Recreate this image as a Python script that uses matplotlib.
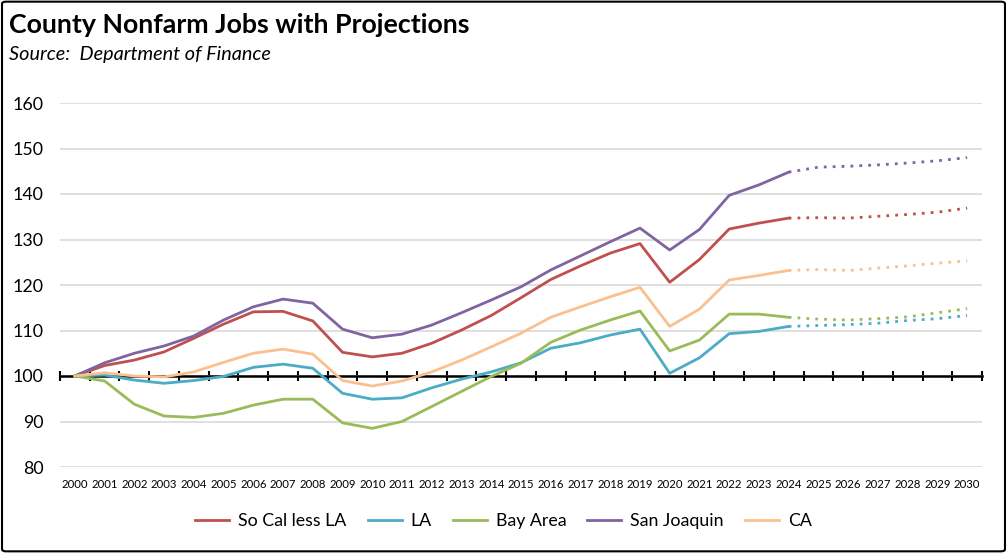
import matplotlib
matplotlib.use("Agg")
import matplotlib.pyplot as plt
from matplotlib.patches import FancyBboxPatch
import numpy as np

plt.rcParams['font.family'] = ['Lato', 'DejaVu Sans']

years = list(range(2000, 2031))
last_actual = 2024  # solid up to here, dotted projection after

so_cal_less_la = [100.0, 102.3, 103.5, 105.3, 108.3, 111.4, 114.1, 114.2, 112.1, 105.2,
                  104.2, 105.0, 107.2, 110.1, 113.3, 117.2, 121.2, 124.2, 127.0, 129.1,
                  120.6, 125.6, 132.3, 133.6, 134.7, 134.8, 134.7, 135.1, 135.5, 136.0, 136.9]
la = [100.0, 100.2, 99.1, 98.4, 99.0, 99.9, 101.9, 102.6, 101.7, 96.2,
      94.9, 95.2, 97.4, 99.3, 100.9, 102.9, 106.1, 107.3, 109.0, 110.3,
      100.6, 104.0, 109.3, 109.8, 110.9, 111.1, 111.3, 111.6, 112.2, 112.6, 113.3]
bay_area = [100.0, 98.9, 93.8, 91.2, 90.9, 91.8, 93.6, 94.9, 94.9, 89.7,
            88.5, 90.0, 93.3, 96.6, 99.9, 102.8, 107.4, 110.1, 112.3, 114.3,
            105.5, 107.9, 113.6, 113.6, 112.9, 112.5, 112.3, 112.6, 113.0, 113.9, 114.8]
san_joaquin = [100.0, 102.9, 105.0, 106.6, 108.8, 112.3, 115.2, 116.9, 116.0, 110.3,
               108.4, 109.2, 111.2, 113.9, 116.7, 119.6, 123.3, 126.4, 129.5, 132.5,
               127.7, 132.2, 139.7, 142.0, 144.8, 145.9, 146.1, 146.4, 146.8, 147.3, 148.0]
ca = [100.0, 100.7, 100.0, 99.8, 100.9, 103.0, 105.0, 105.9, 104.8, 99.0,
      97.8, 98.9, 100.9, 103.5, 106.4, 109.4, 112.9, 115.2, 117.4, 119.5,
      110.9, 114.7, 121.1, 122.1, 123.2, 123.4, 123.2, 123.7, 124.2, 124.8, 125.3]

series = [
    ("So Cal less LA", so_cal_less_la, "#C0504D"),
    ("LA", la, "#4BACC6"),
    ("Bay Area", bay_area, "#9BBB59"),
    ("San Joaquin", san_joaquin, "#8064A2"),
    ("CA", ca, "#FAC090"),
]

fig = plt.figure(figsize=(10.07, 5.53), dpi=100)
ax = fig.add_axes([60 / 1007, 1 - 467 / 553, 922 / 1007, 364 / 553])

x = np.arange(len(years))
cut = years.index(last_actual)
for name, vals, col in series:
    v = np.array(vals)
    ax.plot(x[:cut + 1], v[:cut + 1], color=col, lw=2.0, label=name,
            solid_joinstyle='round', zorder=3)
    ax.plot(x[cut:], v[cut:], color=col, lw=2.0, linestyle=(0, (1.0, 2.2)),
            dash_capstyle='butt', zorder=3)

ax.set_xlim(-0.5, len(years) - 0.5)
ax.set_ylim(80, 160)
ax.set_yticks(range(80, 161, 10))
ax.yaxis.grid(True, color='#d9d9d9', lw=1.2)
ax.set_axisbelow(True)
ax.tick_params(axis='y', length=0, pad=12, labelsize=12.8)
for s in ['top', 'right', 'left']:
    ax.spines[s].set_visible(False)

# category axis crossing at 100
ax.spines['bottom'].set_position(('data', 100))
ax.spines['bottom'].set_linewidth(1.8)
ax.spines['bottom'].set_zorder(2)
ax.set_xticks(np.arange(-0.5, len(years), 1.0))
ax.set_xticklabels([])
ax.tick_params(axis='x', direction='inout', length=7, width=1.5)

sec = ax.secondary_xaxis('bottom')
sec.set_xticks(x)
sec.set_xticklabels([str(y) for y in years], fontsize=8.2)
sec.tick_params(length=0, pad=9)
sec.spines['bottom'].set_visible(False)

fig.text(9 / 1007, 1 - 33 / 553, "County Nonfarm Jobs with Projections",
         fontsize=19.3, fontweight='bold', ha='left', va='baseline')
fig.text(9 / 1007, 1 - 60 / 553, "Source:  Department of Finance",
         fontsize=14.3, style='italic', ha='left', va='baseline')

handles, labels = ax.get_legend_handles_labels()
fig.legend(handles, labels, loc='center', bbox_to_anchor=(0.5, 1 - 521 / 553),
           ncol=5, frameon=False, fontsize=12.8, handlelength=1.9,
           columnspacing=1.2, handletextpad=0.5)

border = FancyBboxPatch((0.002, 0.003), 0.996, 0.994, boxstyle='round,pad=0,rounding_size=0.004',
                        transform=fig.transFigure, fill=False, edgecolor='black', lw=1.5)
fig.patches.append(border)

fig.savefig("out.png", dpi=100)
plt.close(fig)
